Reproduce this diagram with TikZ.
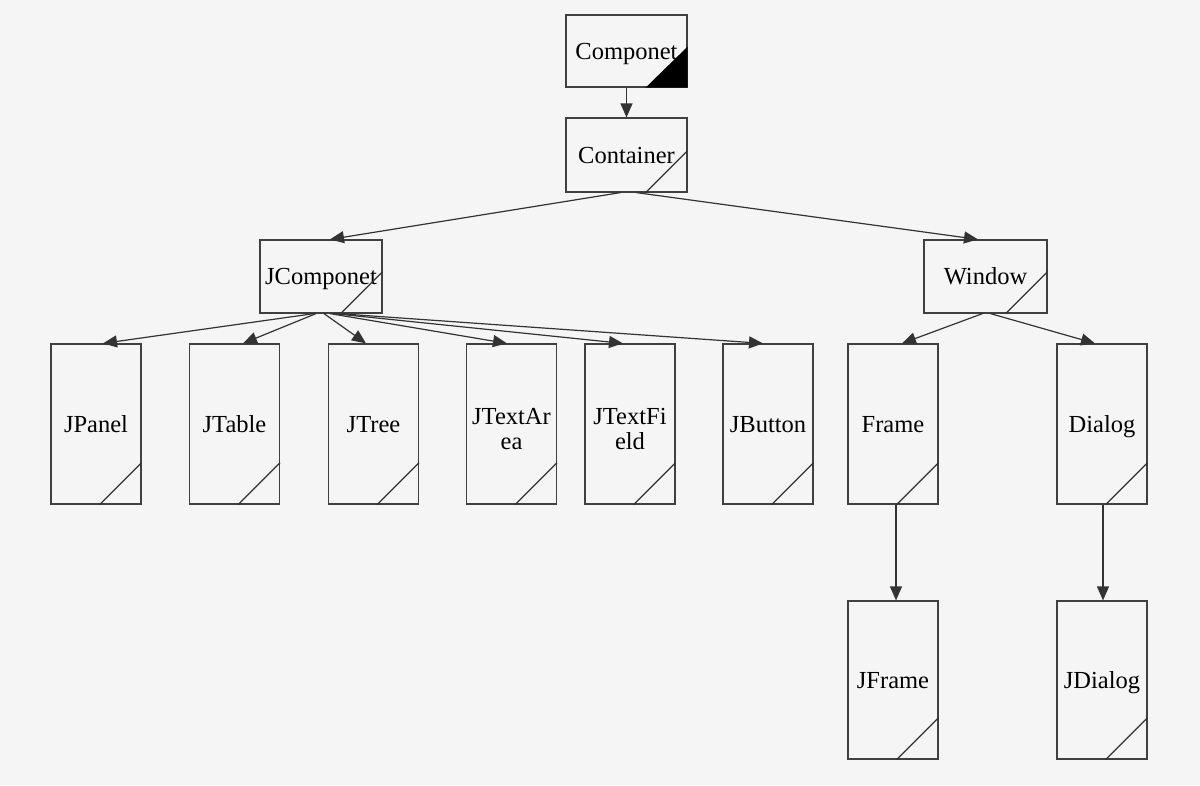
\documentclass[tikz,border=0pt]{standalone}
\usepackage{fontspec}
\setmainfont{Liberation Serif}
\usetikzlibrary{arrows.meta}
\newcommand{\twoline}[2]{\parbox[t]{88pt}{\centering\fontsize{24.5}{25}\selectfont #1\\#2}}
\begin{document}
\begin{tikzpicture}[x=1pt,y=-1pt,
  cls/.style={draw=black!75,line width=1.2pt,inner sep=0pt,align=center,
    font=\fontsize{24.5}{26}\selectfont,text height=20pt,text depth=4pt},
  two/.style={text height=20pt,text depth=20pt},
  topbox/.style={cls,minimum width=121pt,minimum height=73pt},
  tallbox/.style={cls,minimum width=90pt,minimum height=160pt},
  inh/.style={draw=black!80,line width=1.2pt,-{Triangle[length=14pt,width=12pt]}},
  corner/.style={draw=black!80,line width=1.2pt}]
\useasboundingbox[fill=black!4] (0,0) rectangle (1200,785);

\node[topbox,minimum height=72pt] (comp) at (626.5,51) {Componet};
\node[topbox,minimum height=74pt] (cont) at (626.5,155) {Container};
\node[topbox,minimum width=122pt] (jcomp) at (321,276.5) {JComponet};
\node[topbox,minimum width=123pt] (win) at (985.5,276.5) {Window};

\node[tallbox] (jpanel) at (96,424) {JPanel};
\node[tallbox] (jtable) at (234.5,424) {JTable};
\node[tallbox] (jtree) at (373.5,424) {JTree};
\node[tallbox,two] (jtarea) at (511.5,424) {\twoline{JTextAr}{ea}};
\node[tallbox,two] (jtfield) at (630,424) {\twoline{JTextFi}{eld}};
\node[tallbox] (jbutton) at (768,424) {JButton};
\node[tallbox] (frame) at (893,424) {Frame};
\node[tallbox] (dialog) at (1102,424) {Dialog};
\node[tallbox,minimum height=158pt] (jframe) at (893,680) {JFrame};
\node[tallbox,minimum height=158pt] (jdialog) at (1102,680) {JDialog};

% corner marks
\fill[black] ([xshift=-42pt]comp.south east) -- (comp.south east) -- ([yshift=41pt]comp.south east) -- cycle;
\foreach \n in {cont,jcomp,win,jpanel,jtable,jtree,jtarea,jtfield,jbutton,frame,dialog,jframe,jdialog}
  \draw[corner] ([xshift=-42pt]\n.south east) -- ([yshift=42pt]\n.south east);

% connectors
\draw[inh] (comp.south) -- (cont.north);
\draw[inh] ([xshift=-6pt]cont.south) -- ([xshift=9pt]jcomp.north);
\draw[inh] ([xshift=10pt]cont.south) -- ([xshift=-7.5pt]win.north);

\draw[inh] ([xshift=-7pt]jcomp.south) -- ([xshift=7pt]jpanel.north);
\draw[inh] ([xshift=-5pt]jcomp.south) -- ([xshift=8.5pt]jtable.north);
\draw[inh] ([xshift=3pt]jcomp.south) -- ([xshift=-7.5pt]jtree.north);
\draw[inh] ([xshift=9pt]jcomp.south) -- ([xshift=-4.5pt]jtarea.north);
\draw[inh] ([xshift=13pt]jcomp.south) -- ([xshift=-7pt]jtfield.north);
\draw[inh] ([xshift=17pt]jcomp.south) -- ([xshift=-5pt]jbutton.north);

\draw[inh] ([xshift=-3pt]win.south) -- ([xshift=9pt]frame.north);
\draw[inh] ([xshift=5pt]win.south) -- ([xshift=-7pt]dialog.north);

\draw[inh] ([xshift=3pt]frame.south) -- ([xshift=3pt]jframe.north);
\draw[inh] ([xshift=1pt]dialog.south) -- ([xshift=1pt]jdialog.north);
\end{tikzpicture}
\end{document}
